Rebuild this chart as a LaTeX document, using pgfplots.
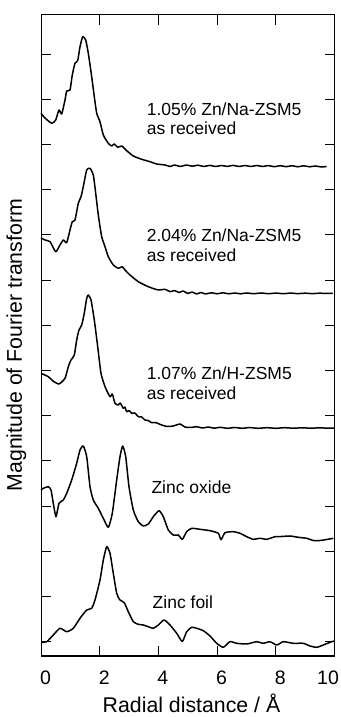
\documentclass[border=0pt]{standalone}
\usepackage{fontspec}
\setmainfont{Liberation Sans}
\usepackage{pgfplots}
\pgfplotsset{compat=1.18}
\begin{document}
\begin{tikzpicture}[x=1pt,y=1pt]
\path[use as bounding box] (0,0) rectangle (340,717);
\begin{axis}[
  at={(41pt,61pt)}, anchor=south west,
  scale only axis, width=293.5pt, height=641pt,
  xmin=0, xmax=10, ymin=0, ymax=641,
  xtick={0,2,4,6,8},
  extra x ticks={10}, extra x tick labels={10},
  extra x tick style={xticklabel style={xshift=-11pt}},
  ytick={14.2,59.4,104.6,149.8,195,240.2,285.4,330.6,375.8,421,466.2,511.4,556.6,601.8},
  yticklabels={},
  tick align=inside, tick pos=both,
  major tick length=10pt,
  axis line style={line width=1pt},
  tick style={line width=1pt, black},
  /pgf/number format/assume math mode=true,
  xticklabel style={font=\fontsize{19.5}{22}\selectfont, inner sep=0pt, anchor=north, yshift=-15pt, xshift=4.5pt},
  xlabel={Radial distance / Å},
  ylabel={Magnitude of Fourier transform},
  label style={font=\fontsize{21.3}{24}\selectfont, inner sep=0pt},
  xlabel style={at={(axis description cs:0.5128,-0.088)}, anchor=base},
  ylabel style={at={(axis description cs:-0.0494,0.485)}, anchor=south},
  cycle list={{black}},
  no markers,
  every axis plot/.append style={black, line width=1.5pt, line join=round, smooth, tension=0.35},
  clip=false,
]
% 1.05% Zn/Na-ZSM5
\addplot coordinates {
(0,542.7) (0.136,538) (0.365,532.7) (0.501,536) (0.613,546) (0.705,542) (0.818,556) (0.876,565) (0.988,566)
(1.066,581) (1.158,592.7) (1.250,595.3) (1.329,609.3) (1.421,619.3) (1.523,616) (1.612,602.7) (1.727,579.3)
(1.816,559.3) (1.898,542.7) (2.010,534.3) (2.123,521) (2.293,512.7) (2.409,510) (2.497,512) (2.613,508.7)
(2.750,510) (2.920,505.3) (3.145,500) (3.431,496.7) (3.714,494.3) (3.942,492) (4.225,491)
(4.40,489.5) (4.55,491) (4.75,489.5) (4.95,491) (5.15,489.8) (5.35,490.8) (5.55,489.5) (5.75,490.6)
(5.95,489.5) (6.15,490.5) (6.35,489.6) (6.55,490.6) (6.75,489.5) (6.95,490.5) (7.15,489.5) (7.35,490.5)
(7.55,489.5) (7.75,490.4) (7.95,489.3) (8.15,490.3) (8.35,489.3) (8.55,490.3) (8.75,489.2) (8.95,490.2)
(9.15,489.2) (9.35,490) (9.55,489) (9.73,489.5)
};
% 2.04% Zn/Na-ZSM5
\addplot coordinates {
(0,418) (0.136,416) (0.307,414.3) (0.501,404.3) (0.647,411) (0.760,416) (0.876,413.3) (0.988,426)
(1.066,434.3) (1.158,436) (1.271,452.7) (1.363,459.3) (1.441,469.3) (1.557,486) (1.670,487.7) (1.782,481)
(1.864,462.7) (1.952,441) (2.068,419.3) (2.181,409.3) (2.293,399.3) (2.463,391) (2.634,387.7) (2.770,389.3)
(2.862,386) (3.032,381) (3.315,374.3) (3.656,369.3) (3.997,366) (4.225,366.7)
(4.40,364.3) (4.55,365.5) (4.70,363.5) (4.85,365) (5.00,362.5) (5.15,364) (5.30,362) (5.45,363.5)
(5.60,362) (5.80,363.2) (6.00,362.2) (6.20,363.2) (6.40,362.2) (6.60,363) (6.80,362.2) (7.00,363)
(7.25,362.3) (7.50,363) (7.75,362.3) (8.00,362.9) (8.25,362.3) (8.50,362.9) (8.75,362.4) (9.00,362.8)
(9.25,362.4) (9.50,362.8) (9.75,362.5) (9.94,362.8)
};
% 1.07% Zn/H-ZSM5
\addplot coordinates {
(0,282.7) (0.249,279.3) (0.409,275) (0.613,272) (0.818,277.7) (0.930,289.3) (1.022,296) (1.135,301)
(1.216,316) (1.295,326) (1.387,331) (1.475,342.7) (1.557,357.7) (1.612,361) (1.704,356) (1.816,336)
(1.932,309.3) (2.044,282.7) (2.181,269.3) (2.351,259.3) (2.430,262) (2.521,252.7) (2.634,251) (2.700,253)
(2.804,247.7) (2.860,249) (2.920,244.3) (3.000,245.5) (3.090,242.7) (3.200,243) (3.315,239.3) (3.430,239)
(3.543,236) (3.650,235.5) (3.772,233.3) (3.900,233.5) (4.112,231) (4.30,229.5) (4.50,230) (4.74,232)
(4.90,229) (5.10,228.5) (5.30,229.3) (5.50,228) (5.70,229) (5.90,227.8) (6.10,228.7) (6.35,227.7)
(6.60,228.5) (6.85,227.7) (7.10,228.4) (7.40,227.7) (7.70,228.3) (8.00,227.7) (8.30,228.3) (8.60,227.8)
(8.90,228.2) (9.20,227.8) (9.50,228.2) (9.75,227.8) (10,228)
};
% Zinc oxide
\addplot coordinates {
(0,166) (0.078,167.7) (0.249,169.3) (0.341,166) (0.419,152.7) (0.511,139.3) (0.613,152.7) (0.760,156)
(0.876,162.7) (1.046,176) (1.216,192.7) (1.329,206) (1.441,210) (1.557,199.3) (1.670,169.3) (1.782,156)
(1.952,147.7) (2.123,137.7) (2.293,128.7) (2.429,142.7) (2.579,176) (2.692,199.3) (2.784,210) (2.886,199.3)
(2.998,169.3) (3.145,146) (3.315,134.3) (3.486,130) (3.656,132) (3.826,139.3) (4.020,145.3) (4.167,139.3)
(4.337,126) (4.508,121) (4.678,121) (4.814,116.7) (4.964,124.3) (5.135,127.7) (5.417,126.7) (5.758,125.3)
(6.041,122.7) (6.133,116.3) (6.269,123.3) (6.552,124.3) (6.780,122.7) (7.009,119.3) (7.233,116.7) (7.462,117.7)
(7.690,116.7) (7.973,119.3) (8.201,119.5) (8.484,120) (8.767,118.7) (9.053,117.7) (9.278,115.5) (9.506,115.5)
(9.734,116.5) (9.959,117.7)
};
% Zinc foil
\addplot coordinates {
(0,13.7) (0.194,14.3) (0.419,21) (0.647,27.7) (0.876,24.3) (1.101,27.7) (1.329,37.7) (1.557,46)
(1.727,47.7) (1.840,56) (2.010,76) (2.123,96) (2.238,109.3) (2.351,102.7) (2.463,82.7) (2.579,62.7)
(2.692,56) (2.838,53.3) (2.974,44.3) (3.145,34.3) (3.315,31.7) (3.486,31) (3.656,29.3) (3.826,27.7)
(3.997,31) (4.191,36) (4.395,31) (4.624,22.7) (4.814,14.5) (4.964,24.3) (5.135,28.7) (5.305,27.7)
(5.530,25.3) (5.758,20) (5.986,12.7) (6.211,8.7) (6.440,14.3) (6.668,12.7) (7.009,12) (7.349,14.3)
(7.574,12.7) (7.802,14.3) (8.031,11) (8.256,14.3) (8.596,12.7) (8.937,12.7) (9.165,10) (9.393,8.7)
(9.618,11) (9.905,14.3) (10,15)
};
\begin{scope}[every node/.style={anchor=base west, inner sep=0pt, font=\fontsize{17.5}{20}\selectfont}]
\node at (axis cs:3.60,540.5) {1.05\% Zn/Na-ZSM5};
\node at (axis cs:3.60,521.5) {as received};
\node at (axis cs:3.60,414.3) {2.04\% Zn/Na-ZSM5};
\node at (axis cs:3.60,394.5) {as received};
\node at (axis cs:3.60,276) {1.07\% Zn/H-ZSM5};
\node at (axis cs:3.60,256.7) {as received};
\node at (axis cs:3.76,162.7) {Zinc oxide};
\node at (axis cs:3.80,47.7) {Zinc foil};
\end{scope}
\end{axis}
\end{tikzpicture}
\end{document}
